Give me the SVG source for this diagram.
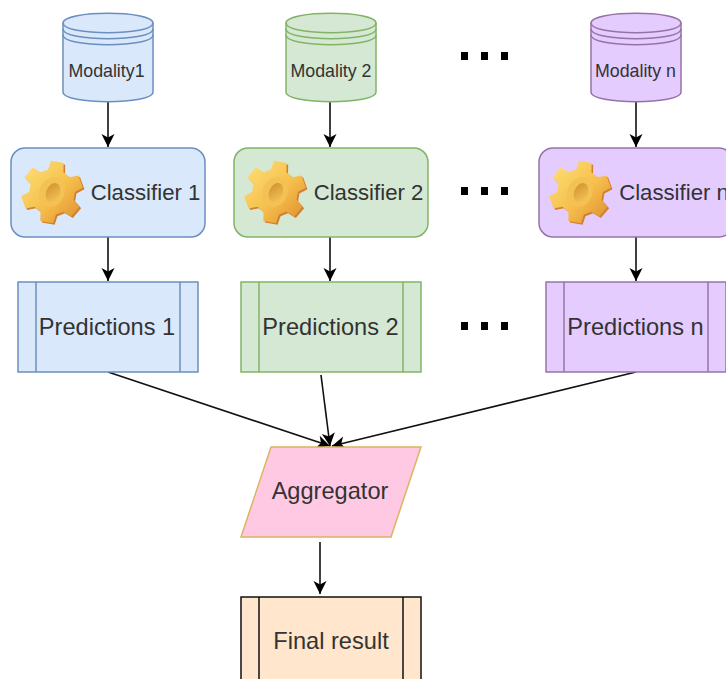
<svg xmlns="http://www.w3.org/2000/svg" xmlns:xlink="http://www.w3.org/1999/xlink" width="726" height="679" viewBox="0 0 726 679">
<style>
text{font-family:"Liberation Sans",Arial,sans-serif;fill:#333;text-anchor:middle}
.m{font-size:17.800px}.k{font-size:22.200px}.l{font-size:23.600px}
.blue{fill:#dae8fc;stroke:#6c8ebf}.green{fill:#d5e8d4;stroke:#82b366}.purple{fill:#e5ccff;stroke:#9673a6}
.s{stroke-width:1.5}.n{fill:none}
.c{fill:none;stroke:#111;stroke-width:1.6;marker-end:url(#a)}
.dot{fill:#000}
</style>
<defs>
<marker id="a" markerUnits="userSpaceOnUse" markerWidth="15" markerHeight="15" refX="13" refY="7" orient="auto"><path d="M0 0.500L13 7L0 13.500L3.500 7Z" fill="#000"/></marker>
<linearGradient id="g" x1="0" y1="0" x2="1" y2="1"><stop offset="0" stop-color="#fde27a"/><stop offset=".55" stop-color="#f6bf4c"/><stop offset="1" stop-color="#dc8a2e"/></linearGradient>
<linearGradient id="h" x1="0" y1="0" x2="1" y2="1"><stop offset="0" stop-color="#d08f2c"/><stop offset="1" stop-color="#f6c65a"/></linearGradient>
<g id="gear">
<g transform="scale(1.04)">
<path transform="translate(1.5 1.5)" fill="#d0812b" d="M-3.800-21.700L-1-30L11.200-27.800L11-19L16.900-14.100L25.400-15.900L29.700-4.200L22 0L20.700 7.500L26.500 14.100L18.500 23.600L11 19L3.800 21.700L1 30L-11.200 27.800L-11 19L-16.900 14.100L-25.400 15.900L-29.700 4.200L-22 0L-20.700-7.500L-26.500-14.100L-18.500-23.600L-11-19Z"/>
<path fill="url(#g)" d="M-3.800-21.700L-1-30L11.200-27.800L11-19L16.900-14.100L25.400-15.900L29.700-4.200L22 0L20.700 7.500L26.500 14.100L18.500 23.600L11 19L3.800 21.700L1 30L-11.200 27.800L-11 19L-16.900 14.100L-25.400 15.900L-29.700 4.200L-22 0L-20.700-7.500L-26.500-14.100L-18.500-23.600L-11-19Z"/>
<ellipse cx="0" cy="0" rx="12" ry="14.500" transform="rotate(25)" fill="#f4c254"/>
<ellipse cx="1" cy="0" rx="6.500" ry="9.500" transform="rotate(25)" fill="url(#h)"/>
</g>
</g>
<g id="cyl">
<path d="M0 10C0-3 90-3 90 10V79C90 92 0 92 0 79Z"/>
<path class="n" d="M0 10C0 23 90 23 90 10M0 16C0 29 90 29 90 16M0 22C0 35 90 35 90 22"/>
</g>
<g id="pred"><rect width="180" height="90"/><path class="n" d="M18 0V90M162 0V90"/></g>
</defs>

<g id="connectors">
<path class="c" d="M108 102V147"/>
<path class="c" d="M330 102V147"/>
<path class="c" d="M636 102V147"/>
<path class="c" d="M108 237V281"/>
<path class="c" d="M330 237V281"/>
<path class="c" d="M636 237V281"/>
<path class="c" d="M108 372L330 446"/>
<path class="c" d="M321 375L330 446"/>
<path class="c" d="M636 372L332 446"/>
<path class="c" d="M320 542V594"/>
</g>

<g id="modality-1"><use xlink:href="#cyl" href="#cyl" x="63" y="13" class="blue s"/><text class="m" x="106.500" y="77">Modality1</text></g>
<g id="modality-2"><use xlink:href="#cyl" href="#cyl" x="286" y="13" class="green s"/><text class="m" x="331" y="77">Modality 2</text></g>
<g id="modality-n"><use xlink:href="#cyl" href="#cyl" x="591" y="13" class="purple s"/><text class="m" x="635.500" y="77">Modality n</text></g>

<g id="classifier-1"><rect x="11" y="148" width="194" height="89" rx="14" class="blue s"/><use xlink:href="#gear" href="#gear" x="52" y="192"/><text class="k" x="145.500" y="200">Classifier 1</text></g>
<g id="classifier-2"><rect x="234" y="148" width="194" height="89" rx="14" class="green s"/><use xlink:href="#gear" href="#gear" x="275" y="192"/><text class="k" x="368.500" y="200">Classifier 2</text></g>
<g id="classifier-n"><rect x="539" y="148" width="194" height="89" rx="14" class="purple s"/><use xlink:href="#gear" href="#gear" x="580" y="192"/><text class="k" x="674" y="200">Classifier n</text></g>

<g id="predictions-1"><use xlink:href="#pred" href="#pred" x="18" y="282" class="blue s"/><text class="l" x="107" y="335">Predictions 1</text></g>
<g id="predictions-2"><use xlink:href="#pred" href="#pred" x="241" y="282" class="green s"/><text class="l" x="330.500" y="335">Predictions 2</text></g>
<g id="predictions-n"><use xlink:href="#pred" href="#pred" x="546" y="282" class="purple s"/><text class="l" x="635.500" y="335">Predictions n</text></g>

<g id="aggregator"><path d="M271 447H421L391 537H241Z" fill="#ffc9e3" stroke="#dcb45c" stroke-width="1.500"/><text class="l" x="330" y="499">Aggregator</text></g>
<g id="final-result"><rect x="241" y="597" width="180" height="90" fill="#ffe6cc" stroke="#111" stroke-width="1.500"/><path d="M259 597V687M403 597V687" fill="none" stroke="#111" stroke-width="1.500"/><text class="l" x="331" y="649">Final result</text></g>

<g id="ellipsis-top" class="dot"><rect x="461" y="52" width="7" height="8"/><rect x="481" y="52" width="7" height="8"/><rect x="501" y="52" width="7" height="8"/></g>
<g id="ellipsis-mid" class="dot"><rect x="461" y="187" width="7" height="8"/><rect x="481" y="187" width="7" height="8"/><rect x="501" y="187" width="7" height="8"/></g>
<g id="ellipsis-bot" class="dot"><rect x="461" y="322" width="7" height="8"/><rect x="481" y="322" width="7" height="8"/><rect x="501" y="322" width="7" height="8"/></g>
</svg>
